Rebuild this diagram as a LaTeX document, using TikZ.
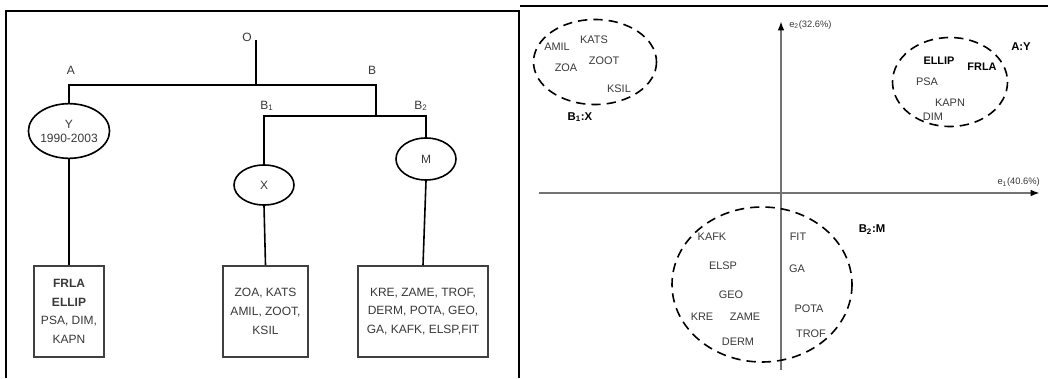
\documentclass[tikz,border=0pt]{standalone}
\usepackage{fontspec}
\setmainfont{Liberation Sans}
\usepackage{tikz}
\usetikzlibrary{arrows.meta,shapes.geometric,positioning}
\definecolor{txtgray}{rgb}{0.22,0.22,0.22}
\definecolor{axisgray}{rgb}{0.45,0.45,0.45}

\tikzset{
  frameline/.style={line width=1.5pt},
  tline/.style={line width=1.2pt},
  tlabel/.style={font=\fontsize{9}{10}\selectfont, text=txtgray, inner sep=0pt},
  groupell/.style={draw, ellipse, line width=1.2pt, inner sep=0pt, align=center,
    font=\fontsize{9}{10.5}\selectfont, text=txtgray},
  leafbox/.style={draw=black!75, line width=1.6pt, inner sep=0pt, align=center,
    minimum height=68pt, font=\fontsize{9}{14}\selectfont, text=txtgray},
  varname/.style={font=\fontsize{8.2}{9}\selectfont, text=txtgray, inner sep=0pt},
  clusterlab/.style={font=\bfseries\fontsize{8.5}{10}\selectfont, inner sep=0pt},
  cluster/.style={dashed, dash pattern=on 7pt off 4.5pt, line width=1.2pt},
  axis/.style={axisgray, line width=1.6pt, -{Latex[black,length=7pt,width=5pt]}},
  axislab/.style={font=\fontsize{7}{8}\selectfont, text=txtgray, inner sep=0pt}
}

\begin{document}
\begin{tikzpicture}[x=0.75pt,y=-0.75pt]
      \useasboundingbox (0,0) rectangle (1048,378);
      % Frames
      \draw[frameline] (6,378) -- (6,11) -- (519,11) -- (519,378);
      \draw[frameline] (520,6) -- (1048,6);
      % Tree: labels
      \node[tlabel] (olab) at (247,37) {O};
      \node[tlabel] (alab) at (71,70) {A};
      \node[tlabel] (blab) at (372,70) {B};
      \node[tlabel] (bonelab) at (267,106) {B\textsubscript{1}};
      \node[tlabel] (btwolab) at (421,106) {B\textsubscript{2}};
      % Tree: group ellipses
      \node[groupell, minimum width=56pt, minimum height=41pt] (yell) at (69,131) {Y\\1990-2003};
      \node[groupell, minimum width=45pt, minimum height=30pt] (xell) at (264,185) {X};
      \node[groupell, minimum width=45pt, minimum height=31.5pt] (mell) at (426,159) {M};
      % Tree: leaf boxes
      \node[leafbox, minimum width=52.5pt] (abox) at (69,311.5) {\textbf{FRLA}\\\textbf{ELLIP}\\PSA, DIM,\\KAPN};
      \node[leafbox, minimum width=64pt] (bonebox) at (265.5,311.5) {ZOA, KATS\\AMIL, ZOOT,\\KSIL};
      \node[leafbox, minimum width=97.5pt] (btwobox) at (423,311.5) {KRE, ZAME, TROF,\\DERM, POTA, GEO,\\GA, KAFK, ELSP,FIT};
      % Tree: branches
      \coordinate (otop) at (256,40);
      \coordinate (ojoin) at (256,85);
      \coordinate (bcorner) at (376,85);
      \coordinate (bjoin) at (376,116);
      \draw[tline] (otop) -- (ojoin);
      \draw[tline] (yell.north) |- (bcorner) -- (bjoin);
      \draw[tline] (xell.north) |- (bjoin) -| (mell.north);
      \draw[tline] (yell.south) -- (abox.north);
      \draw[tline] (xell.south) -- (bonebox.north);
      \draw[tline] (mell.south) -- (btwobox.north);
      % Factor plane: axes
      \coordinate (eoneleft) at (539,193);
      \coordinate (eoneright) at (1040,193);
      \coordinate (etwobottom) at (781,370);
      \coordinate (etwotop) at (781,21);
      \draw[axis] (eoneleft) -- (eoneright);
      \draw[axis] (etwobottom) -- (etwotop);
      \node[axislab, anchor=south east] (eonelab) at (1040,187) {e\textsubscript{1}(40.6\%)};
      \node[axislab, anchor=west] (etwolab) at (789,25) {e\textsubscript{2}(32.6\%)};
      % Cluster B1:X
      \draw[cluster] (595,62) ellipse [x radius=61.5, y radius=42.5];
      \node[varname] (amil) at (557,47) {AMIL};
      \node[varname] (kats) at (594,40) {KATS};
      \node[varname] (zoa) at (566,68) {ZOA};
      \node[varname] (zoot) at (604,61) {ZOOT};
      \node[varname] (ksil) at (619,89) {KSIL};
      \node[clusterlab] (bonexlab) at (580,117) {B\textsubscript{1}:X};
      % Cluster A:Y
      \draw[cluster] (950,82) ellipse [x radius=57.5, y radius=44.5];
      \node[varname, font=\bfseries\fontsize{8.2}{9}\selectfont, text=black] (ellip) at (939,61) {ELLIP};
      \node[varname, font=\bfseries\fontsize{8.2}{9}\selectfont, text=black] (frla) at (982,67) {FRLA};
      \node[varname] (psa) at (927,82) {PSA};
      \node[varname] (kapn) at (950,103) {KAPN};
      \node[varname] (dim) at (933,117) {DIM};
      \node[clusterlab] (aylab) at (1021,47) {A:Y};
      % Cluster B2:M
      \draw[cluster] (762,284.5) ellipse [x radius=90, y radius=77.5];
      \node[varname] (kafk) at (712,237) {KAFK};
      \node[varname] (elsp) at (723,266) {ELSP};
      \node[varname] (geo) at (731,295) {GEO};
      \node[varname] (kre) at (702,317) {KRE};
      \node[varname] (zame) at (745,317) {ZAME};
      \node[varname] (derm) at (738,342) {DERM};
      \node[varname] (fit) at (798,237) {FIT};
      \node[varname] (ga) at (797,269) {GA};
      \node[varname] (pota) at (809,309) {POTA};
      \node[varname] (trof) at (811,334) {TROF};
      \node[clusterlab] (btwomlab) at (872,230) {B\textsubscript{2}:M};
    \end{tikzpicture}
\end{document}
